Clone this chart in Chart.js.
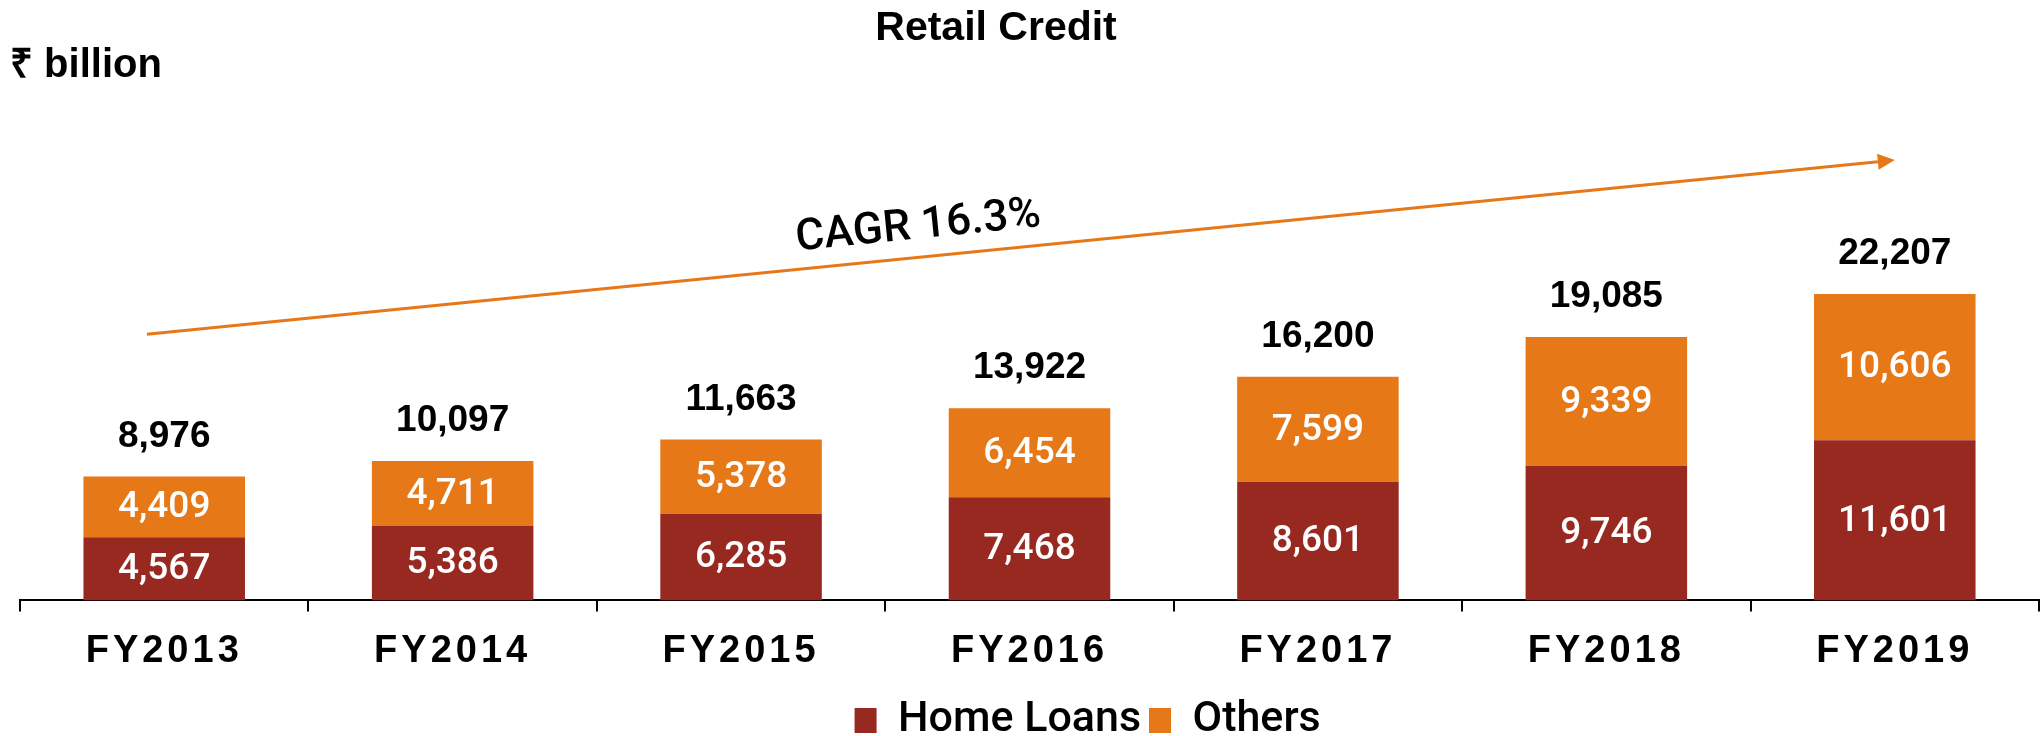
<!DOCTYPE html>
<html>
<head>
<meta charset="utf-8">
<script src="https://cdn.jsdelivr.net/npm/chart.js@4.4.1/dist/chart.umd.min.js"></script>
<style>
  html, body { margin: 0; padding: 0; background: #fff; }
  #wrap { width: 2041px; height: 736px; position: relative; }
</style>
</head>
<body>
<div id="wrap"><canvas id="chart"></canvas></div>
<script>
// categories
const years = ['FY2013', 'FY2014', 'FY2015', 'FY2016', 'FY2017', 'FY2018', 'FY2019'];
// ₹ billion
const homeLoans = [4567, 5386, 6285, 7468, 8601, 9746, 11601];
const others = [4409, 4711, 5378, 6454, 7599, 9339, 10606];
const cagrText = 'CAGR 16.3%';

const RED = '#972920';
const ORANGE = '#E67818';
const fmt = v => v.toLocaleString('en-US');

// arrow ends, in category index / value units
const arrowFrom = [-0.06, 19280];
const arrowTo = [6.0, 31900];

const labelsPlugin = {
    id: 'barLabels',
    afterDatasetsDraw(chart) {
        const ctx = chart.ctx;
        const xs = chart.scales.x, ys = chart.scales.y;
        ctx.save();
        ctx.textAlign = 'center';
        ctx.textBaseline = 'middle';

        // values inside the segments
        ctx.font = '500 37px Roboto';
        ctx.fillStyle = '#fff';
        chart.data.datasets.forEach((ds, i) => {
            chart.getDatasetMeta(i).data.forEach((bar, j) => {
                ctx.fillText(fmt(ds.data[j]), bar.x, (bar.y + bar.base) / 2 + 1);
            });
        });

        // totals on top
        ctx.font = 'bold 37px "Liberation Sans"';
        ctx.fillStyle = '#000';
        chart.getDatasetMeta(1).data.forEach((bar, j) => {
            ctx.fillText(fmt(homeLoans[j] + others[j]), bar.x, bar.y - 40);
        });

        // CAGR arrow
        const x1 = xs.getPixelForValue(arrowFrom[0]), y1 = ys.getPixelForValue(arrowFrom[1]);
        const x2 = xs.getPixelForValue(arrowTo[0]), y2 = ys.getPixelForValue(arrowTo[1]);
        const len = Math.hypot(x2 - x1, y2 - y1);
        const dx = (x2 - x1) / len, dy = (y2 - y1) / len;
        const head = 17, half = 8;
        ctx.strokeStyle = ORANGE;
        ctx.fillStyle = ORANGE;
        ctx.lineWidth = 3;
        ctx.beginPath();
        ctx.moveTo(x1, y1);
        ctx.lineTo(x2 - dx * head, y2 - dy * head);
        ctx.stroke();
        ctx.beginPath();
        ctx.moveTo(x2, y2);
        ctx.lineTo(x2 - dx * head - dy * half, y2 - dy * head + dx * half);
        ctx.lineTo(x2 - dx * head + dy * half, y2 - dy * head - dx * half);
        ctx.closePath();
        ctx.fill();

        // label along the arrow
        const t = 0.443;
        const tx = x1 + (x2 - x1) * t + dy * 30;
        const ty = y1 + (y2 - y1) * t - dx * 30;
        ctx.translate(tx, ty);
        ctx.rotate(Math.atan2(y2 - y1, x2 - x1));
        ctx.font = '500 44px Roboto';
        ctx.fillStyle = '#000';
        ctx.fillText(cagrText, 0, 0);
        ctx.restore();

        // x tick labels are on the top layer (ticks.z = 1), spaced out
        ctx.letterSpacing = '4px';
    },
    afterDraw(chart) {
        chart.ctx.letterSpacing = '0px';
    }
};

const config = {
    type: 'bar',
    data: {
        labels: years,
        datasets: [
            {
                label: 'Home Loans',
                data: homeLoans,
                backgroundColor: RED,
                borderWidth: 0,
                barPercentage: 0.56,
                categoryPercentage: 1
            },
            {
                label: 'Others',
                data: others,
                backgroundColor: ORANGE,
                borderWidth: 0,
                barPercentage: 0.56,
                categoryPercentage: 1
            }
        ]
    },
    options: {
        responsive: true,
        maintainAspectRatio: false,
        animation: false,
        layout: {
            padding: { left: 10, right: 2, top: 0, bottom: -16 }
        },
        plugins: {
            title: {
                display: true,
                // trailing spaces nudge the centred title a little to the left
                text: 'Retail Credit     ',
                color: '#000',
                font: { family: '"Liberation Sans"', size: 41, weight: 'bold', lineHeight: 1 },
                padding: { top: 8, bottom: 0 }
            },
            subtitle: {
                display: true,
                text: '₹ billion',
                align: 'start',
                color: '#000',
                font: { family: '"Liberation Sans"', size: 40, weight: 'bold', lineHeight: 1 },
                padding: { top: -3, bottom: 41 }
            },
            legend: {
                position: 'bottom',
                labels: {
                    color: '#000',
                    font: { family: 'Roboto', size: 43, weight: '500' },
                    boxWidth: 22,
                    boxHeight: 25,
                    padding: 8,
                    // blank spacer in front pushes the two entries right of centre
                    generateLabels(chart) {
                        const items = Chart.defaults.plugins.legend.labels.generateLabels(chart);
                        items.unshift({
                            text: '       ',
                            fillStyle: 'rgba(0,0,0,0)',
                            strokeStyle: 'rgba(0,0,0,0)',
                            lineWidth: 0,
                            hidden: false,
                            datasetIndex: -1
                        });
                        return items;
                    }
                }
            },
            tooltip: { enabled: false }
        },
        scales: {
            x: {
                stacked: true,
                border: { display: true, color: '#000', width: 2 },
                grid: {
                    display: true,
                    offset: true,
                    drawOnChartArea: false,
                    drawTicks: true,
                    tickLength: 11,
                    color: '#000',
                    lineWidth: 2
                },
                ticks: {
                    color: '#000',
                    font: { family: '"Liberation Sans"', size: 38, weight: 'bold' },
                    padding: 17,
                    z: 1
                }
            },
            y: {
                stacked: true,
                min: 0,
                max: 34300,
                display: true,
                grid: { display: false },
                border: { display: false },
                ticks: { display: false },
                afterFit(scale) { scale.width = 10; }
            }
        }
    },
    plugins: [labelsPlugin]
};

const chart = new Chart(document.getElementById('chart'), config);
</script>
</body>
</html>
